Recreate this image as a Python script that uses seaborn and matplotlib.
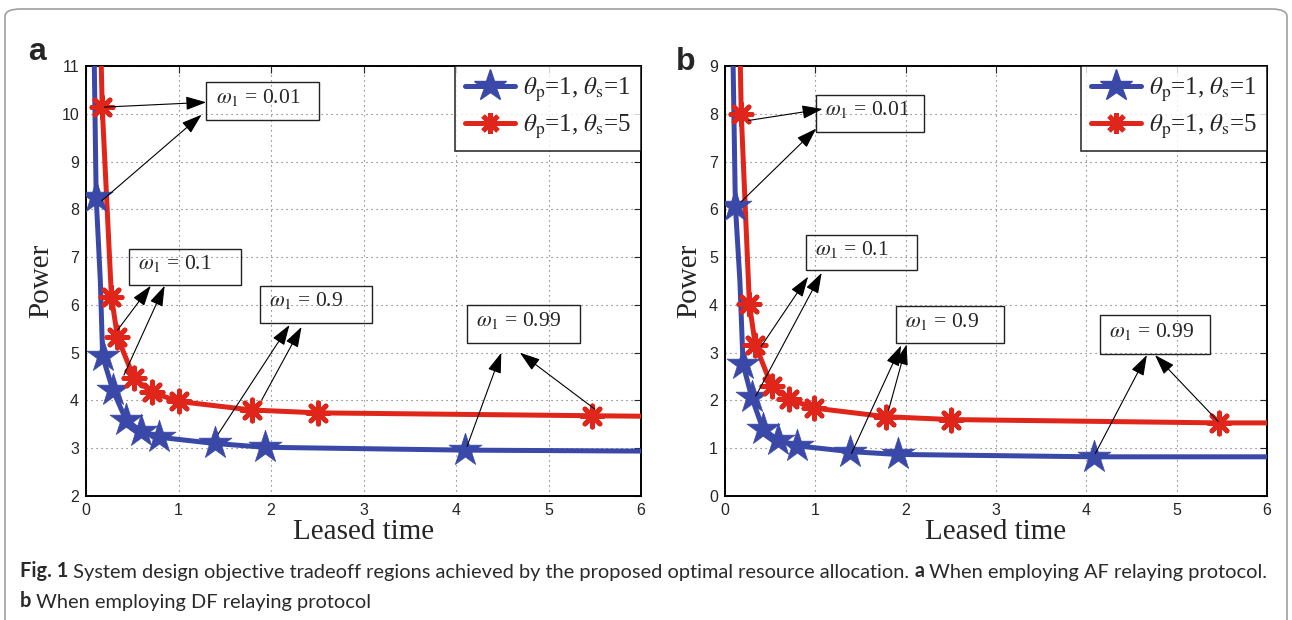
import matplotlib
matplotlib.use("Agg")
import matplotlib.pyplot as plt
from matplotlib.lines import Line2D
from matplotlib.patches import Rectangle, FancyBboxPatch
import seaborn as sns

# Data --------------------------------------------------------------------------------------------------------------
# panel a (AF relaying)
a_blue_x = [0.09, 0.11, 0.155, 0.18, 0.29, 0.43, 0.59, 0.79, 1.39, 1.93, 4.10, 6.0]
a_blue_y = [11.0, 8.25, 6.5, 4.92, 4.22, 3.60, 3.36, 3.23, 3.10, 3.02, 2.96, 2.94]
a_blue_mx = [0.11, 0.18, 0.29, 0.43, 0.59, 0.79, 1.39, 1.93, 4.10]
a_blue_my = [8.25, 4.92, 4.22, 3.60, 3.36, 3.23, 3.10, 3.02, 2.96]
a_red_x = [0.165, 0.175, 0.275, 0.34, 0.52, 0.715, 1.0, 1.79, 2.51, 5.47, 6.0]
a_red_y = [11.0, 10.15, 6.17, 5.33, 4.46, 4.17, 3.98, 3.80, 3.74, 3.68, 3.67]
a_red_mx = [0.175, 0.275, 0.34, 0.52, 0.715, 1.0, 1.79, 2.51, 5.47]
a_red_my = [10.15, 6.17, 5.33, 4.46, 4.17, 3.98, 3.80, 3.74, 3.68]

# panel b (DF relaying)
b_blue_x = [0.09, 0.115, 0.165, 0.20, 0.295, 0.42, 0.59, 0.80, 1.38, 1.91, 4.09, 6.0]
b_blue_y = [9.0, 6.07, 4.5, 2.76, 2.07, 1.40, 1.17, 1.05, 0.93, 0.87, 0.82, 0.82]
b_blue_mx = [0.115, 0.20, 0.295, 0.42, 0.59, 0.80, 1.38, 1.91, 4.09]
b_blue_my = [6.07, 2.76, 2.07, 1.40, 1.17, 1.05, 0.93, 0.87, 0.82]
b_red_x = [0.17, 0.18, 0.27, 0.335, 0.515, 0.705, 0.99, 1.78, 2.50, 5.47, 6.0]
b_red_y = [9.0, 8.0, 4.02, 3.17, 2.31, 2.03, 1.84, 1.66, 1.60, 1.53, 1.53]
b_red_mx = [0.18, 0.27, 0.335, 0.515, 0.705, 0.99, 1.78, 2.50, 5.47]
b_red_my = [8.0, 4.02, 3.17, 2.31, 2.03, 1.84, 1.66, 1.60, 1.53]

series_labels = [r"$\theta_{\rm p}$=1, $\theta_{\rm s}$=1", r"$\theta_{\rm p}$=1, $\theta_{\rm s}$=5"]
omega_labels = ["0.01", "0.1", "0.9", "0.99"]

# boxes (x0, x1, y0, y1) and arrows ((tail), (head)) for each panel
a_boxes = [(1.30, 2.52, 9.87, 10.67), (0.46, 1.68, 6.42, 7.17), (1.88, 3.09, 5.63, 6.40), (4.12, 5.34, 5.20, 6.00)]
a_arrows = [[((0.20, 10.14), (1.30, 10.24)), ((0.17, 8.18), (1.25, 9.98))],
            [((0.34, 5.47), (0.70, 6.40)), ((0.41, 4.53), (0.85, 6.40))],
            [((1.43, 3.30), (2.20, 5.58)), ((1.90, 4.01), (2.33, 5.54))],
            [((4.12, 3.04), (4.49, 5.00)), ((5.50, 3.82), (4.69, 5.00))]]
b_boxes = [(1.01, 2.20, 7.62, 8.40), (0.90, 2.12, 4.72, 5.46), (1.89, 3.09, 3.21, 3.97), (4.15, 5.37, 2.98, 3.78)]
b_arrows = [[((0.26, 7.86), (1.08, 8.10)), ((0.18, 6.16), (1.01, 7.69))],
            [((0.40, 3.13), (0.92, 4.59)), ((0.34, 2.09), (1.07, 4.67))],
            [((1.40, 0.89), (1.95, 3.15)), ((1.81, 1.79), (2.01, 3.17))],
            [((4.10, 0.89), (4.67, 2.95)), ((5.46, 1.56), (4.76, 2.95))]]

blue = "#3a48a8"
red = "#e0261b"

sns.set_style("white")
plt.rcParams['font.family'] = ['Liberation Sans', 'DejaVu Sans']
plt.rcParams['mathtext.fontset'] = 'stix'


def draw_panel(ax, bx, by, bmx, bmy, rx, ry, rmx, rmy, ymin, ymax, boxes, arrows):
    sns.lineplot(x=bx, y=by, ax=ax, color=blue, lw=3.6, sort=False, estimator=None, zorder=3)
    sns.lineplot(x=rx, y=ry, ax=ax, color=red, lw=3.6, sort=False, estimator=None, zorder=3)
    sns.scatterplot(x=bmx, y=bmy, ax=ax, marker='*', s=620, color=blue, edgecolor=blue, linewidth=0.5, zorder=4)
    sns.scatterplot(x=rmx, y=rmy, ax=ax, marker=(8, 2, 0), s=230, color=red, linewidth=3.5, zorder=4)

    ax.set_xlim(0, 6)
    ax.set_ylim(ymin, ymax)
    ax.set_xticks(range(0, 7))
    ax.set_yticks(range(ymin, ymax + 1))
    ax.grid(True, color='#666666', linestyle=(0, (1, 3.5)), lw=0.8)
    ax.tick_params(direction='in', length=5, top=True, right=True, labelsize=11.5, pad=5)
    for sp in ax.spines.values():
        sp.set_linewidth(1.4)
        sp.set_color('black')
    ax.set_xlabel("Leased time", family='Liberation Serif', fontsize=21, labelpad=1)
    ax.set_ylabel("Power", family='Liberation Serif', fontsize=21, labelpad=5)

    for (x0, x1, y0, y1), lab, arr in zip(boxes, omega_labels, arrows):
        ax.add_patch(Rectangle((x0, y0), x1 - x0, y1 - y0, fill=False, ec='#222222', lw=1.0, zorder=5))
        ax.text(x0 + 0.1, (y0 + y1) / 2 + (ymax - ymin) * 0.008, r"$\omega_1$ = " + lab, family='Liberation Serif',
                fontsize=15.5, va='center', ha='left', zorder=6)
        for tail, head in arr:
            ax.annotate("", xy=head, xytext=tail, zorder=6,
                        arrowprops=dict(arrowstyle='-|>,head_length=0.9,head_width=0.3', color='black', lw=0.8,
                                        mutation_scale=14, shrinkA=0, shrinkB=0))

    handles = [Line2D([], [], color=blue, lw=3.6, marker='*', ms=24, mec=blue),
               Line2D([], [], color=red, lw=3.6, marker=(8, 2, 0), ms=15, mew=3.5)]
    leg = ax.legend(handles, series_labels, loc='upper right', prop={'family': 'Liberation Serif', 'size': 18},
                    frameon=True, fancybox=False, borderaxespad=0, handlelength=2.0, handletextpad=0.3,
                    labelspacing=0.35, borderpad=0.4)
    leg.get_frame().set_edgecolor('black')
    leg.get_frame().set_linewidth(1.2)
    leg.set_zorder(7)


fig = plt.figure(figsize=(12.92, 6.2), dpi=100)

# outer frame ---------------------------------------------------------------------------------------------------------
frame = FancyBboxPatch((5 / 1292, -0.05), 1282 / 1292, 1 - 9 / 620 + 0.05, boxstyle="round,pad=0,rounding_size=0.012",
                       transform=fig.transFigure, fill=False, ec='#a0a0a0', lw=1.2)
fig.add_artist(frame)

ax0 = fig.add_axes([86 / 1292, 0.2, 555 / 1292, 430 / 620])
draw_panel(ax0, a_blue_x, a_blue_y, a_blue_mx, a_blue_my, a_red_x, a_red_y, a_red_mx, a_red_my, 2, 11,
           a_boxes, a_arrows)
ax1 = fig.add_axes([725 / 1292, 0.2, 542 / 1292, 430 / 620])
draw_panel(ax1, b_blue_x, b_blue_y, b_blue_mx, b_blue_my, b_red_x, b_red_y, b_red_mx, b_red_my, 0, 9,
           b_boxes, b_arrows)

fig.text(28 / 1292, 1 - 60 / 620, "a", fontsize=23, fontweight='bold', va='baseline')
fig.text(676 / 1292, 1 - 70 / 620, "b", fontsize=23, fontweight='bold', va='baseline')

# caption ---------------------------------------------------------------------------------------------------------------
cap = fig.add_axes([0, 0, 1, 1], zorder=-1)
cap.axis('off')
cap_font = dict(family=['Lato', 'DejaVu Sans'], fontsize=14.4, color='#2a2a2a')
t = cap.text(20 / 1292, 1 - 577 / 620, "Fig. 1", fontweight='bold', va='baseline', **cap_font)
t = cap.annotate(" System design objective tradeoff regions achieved by the proposed optimal resource allocation.",
                 xy=(1, 0), xycoords=t, va='bottom', **cap_font)
t = cap.annotate(" a", xy=(1, 0), xycoords=t, va='bottom', fontweight='bold', **cap_font)
cap.annotate(" When employing AF relaying protocol.", xy=(1, 0), xycoords=t, va='bottom', **cap_font)
t = cap.text(20 / 1292, 1 - 607 / 620, "b", fontweight='bold', va='baseline', **cap_font)
cap.annotate(" When employing DF relaying protocol", xy=(1, 0), xycoords=t, va='bottom', **cap_font)

fig.savefig("out.png", dpi=100)
